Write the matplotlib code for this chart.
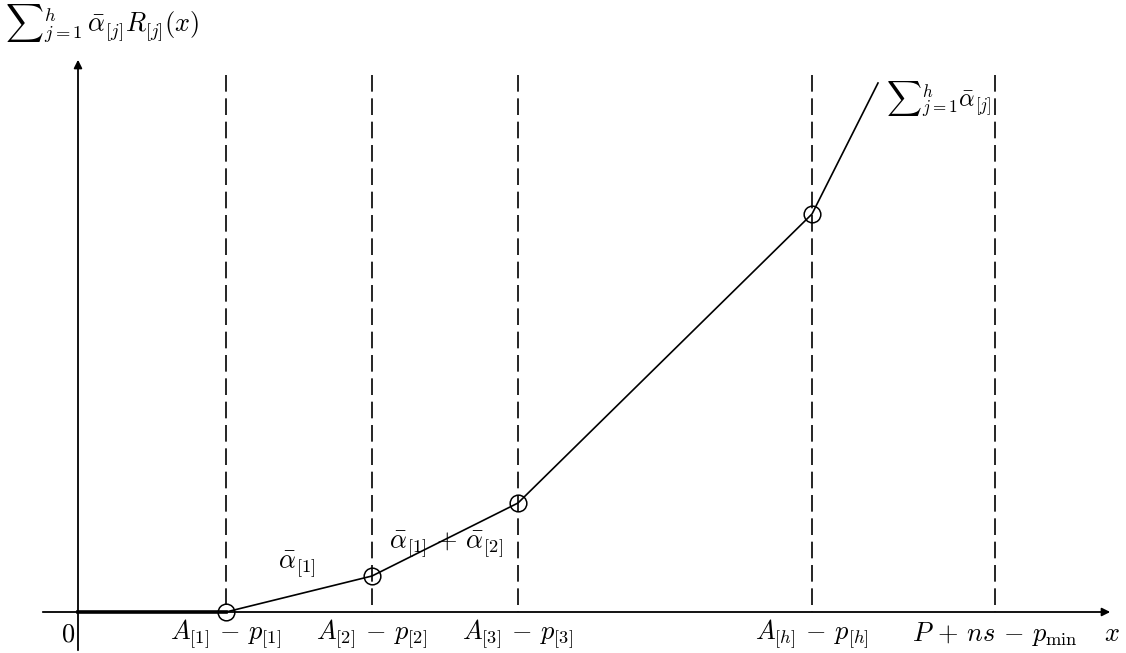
import numpy as np
import matplotlib.pyplot as plt

plt.rcParams['mathtext.fontset'] = 'cm'

# breakpoints of the piecewise linear function
bx = [226, 372, 518, 812]
by = [0, 36, 109, 398]
x0 = 78
x_end, y_end = 878, 529
dash_x = [226, 372, 518, 812, 995]
dash_top = 537
tick_labels = [r'$A_{[1]}\,-\,p_{[1]}$', r'$A_{[2]}\,-\,p_{[2]}$', r'$A_{[3]}\,-\,p_{[3]}$',
               r'$A_{[h]}\,-\,p_{[h]}$', r'$P\,+\,ns\,-\,p_{\min}$']

fig = plt.figure(figsize=(11.26, 6.53), dpi=100)
ax = fig.add_axes([0, 0, 1, 1])
ax.set_xlim(0, 1126)
ax.set_ylim(-41, 612)
ax.axis('off')

# axes with arrows
ax.annotate('', xy=(1113, 0), xytext=(40, 0),
            arrowprops=dict(arrowstyle='-|>', lw=1.3, color='k', mutation_scale=12))
ax.annotate('', xy=(x0, 555), xytext=(x0, -41),
            arrowprops=dict(arrowstyle='-|>', lw=1.3, color='k', mutation_scale=12))

# dashed verticals (drawn top-down so the pattern starts with a full dash)
for xv in dash_x:
    ax.plot([xv, xv], [dash_top, 0], color='k', lw=1.2, ls=(0, (10, 4)))

# function
ax.plot([x0, bx[0]], [0, 0], color='k', lw=2.6)
ax.plot(bx + [x_end], by + [y_end], color='k', lw=1.2)
ax.plot(bx, by, 'o', ms=12, mfc='none', mec='k', mew=1.1)

fs = 19
for xv, lab in zip(dash_x, tick_labels):
    ax.text(xv, -22, lab, fontsize=fs, ha='center', va='center')
ax.text(68, -22, r'$0$', fontsize=fs, ha='center', va='center')
ax.text(1112, -22, r'$x$', fontsize=fs, ha='center', va='center')

ax.text(5, 588, r'${\sum}_{j=1}^{h}\,\bar{\alpha}_{[j]}R_{[j]}(x)$', fontsize=fs, ha='left', va='center')
ax.text(297, 47, r'$\bar{\alpha}_{[1]}$', fontsize=fs, ha='center', va='center')
ax.text(446, 67, r'$\bar{\alpha}_{[1]}\,+\,\bar{\alpha}_{[2]}$', fontsize=fs, ha='center', va='center')
ax.text(886, 512, r'${\sum}_{j=1}^{h}\bar{\alpha}_{[j]}$', fontsize=17.5, ha='left', va='center')

fig.savefig('out.png', dpi=100)
